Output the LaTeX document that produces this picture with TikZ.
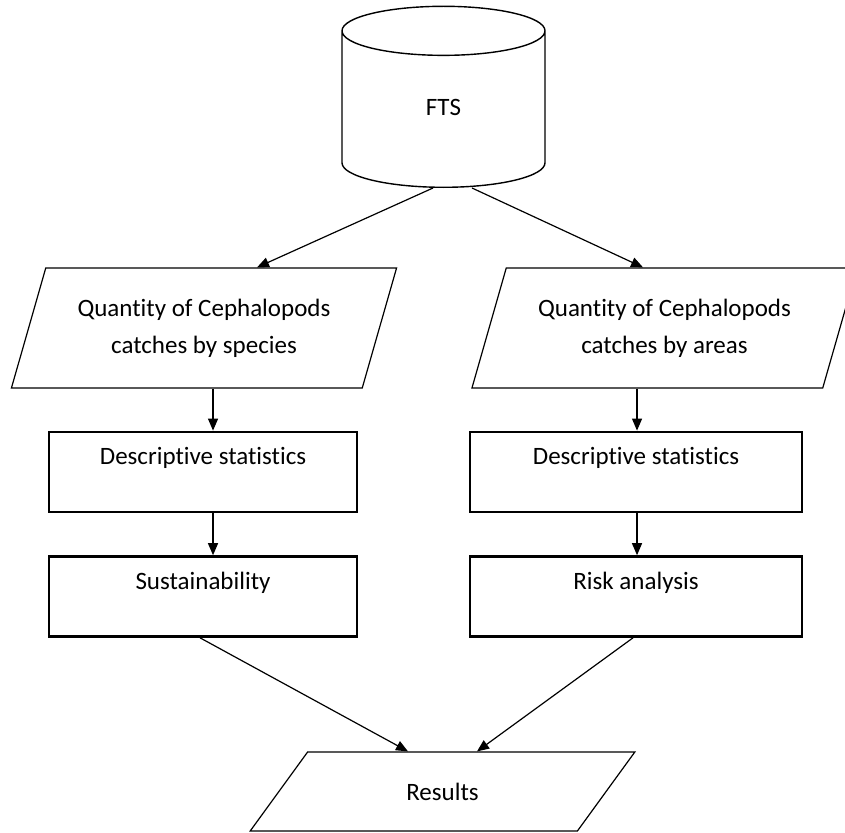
\documentclass[tikz,border=0pt]{standalone}
\usepackage{fontspec}
\setmainfont{Carlito}[RawFeature={-liga}]
\usetikzlibrary{arrows.meta,positioning,shapes.geometric}

\begin{document}
\begin{tikzpicture}[
  x=1pt, y=-1pt,
  node distance=42pt,
  every node/.style={font=\fontsize{25}{37}\selectfont},
  dbase/.style={cylinder, shape border rotate=90, aspect=1.4, draw, line width=1.4pt, minimum width=203pt, minimum height=181pt, inner sep=0pt, text height=12pt, text depth=0pt},
  iobox/.style={trapezium, trapezium left angle=66.6, trapezium right angle=113.4, trapezium stretches=true, draw, line width=1.2pt, minimum width=386pt, minimum height=120pt, align=center, fill=white},
  procbox/.style={draw, line width=2.6pt, inner ysep=0pt, text height=33pt, text depth=47pt, fill=white},
  arrow/.style={-{Triangle[length=12pt,width=10pt]}, line width=1.2pt}
]
\useasboundingbox (0,0) rectangle (845,832);
\clip (0,0) rectangle (845,832);
\node[dbase, anchor=south] (fts) at (443.5,188) {FTS};
\node[iobox] (qspec) at (204,328) {Quantity of Cephalopods\\catches by species};
\node[iobox] (qarea) at (664.5,328) {Quantity of Cephalopods\\catches by areas};
\node[procbox, minimum width=308pt, below=of qspec, xshift=-1pt] (descl) {Descriptive statistics};
\node[procbox, minimum width=308pt, below=of descl] (sust) {Sustainability};
\node[procbox, minimum width=332pt, below=of qarea, xshift=-28.5pt] (descr) {Descriptive statistics};
\node[procbox, minimum width=332pt, below=of descr] (risk) {Risk analysis};
\node[iobox, trapezium left angle=55.2, trapezium right angle=124.8, minimum width=385pt, minimum height=79pt] (res) at (442.5,791.5) {Results};
% connectors
\draw[arrow] ([xshift=-10.5pt]fts.south) -- ([xshift=53pt]qspec.north);
\draw[arrow] ([xshift=28.5pt]fts.south) -- ([xshift=-21.5pt]qarea.north);
\draw[arrow] ([xshift=9pt]qspec.south) -- ([xshift=10pt]descl.north);
\draw[arrow] ([xshift=10pt]descl.south) -- ([xshift=10pt]sust.north);
\draw[arrow] ([xshift=-27.5pt]qarea.south) -- ([xshift=1pt]descr.north);
\draw[arrow] ([xshift=1pt]descr.south) -- ([xshift=1pt]risk.north);
\draw[arrow] ([xshift=-3pt]sust.south) -- ([xshift=-34.5pt]res.north);
\draw[arrow] ([xshift=-3pt]risk.south) -- ([xshift=34.5pt]res.north);
\end{tikzpicture}
\end{document}
